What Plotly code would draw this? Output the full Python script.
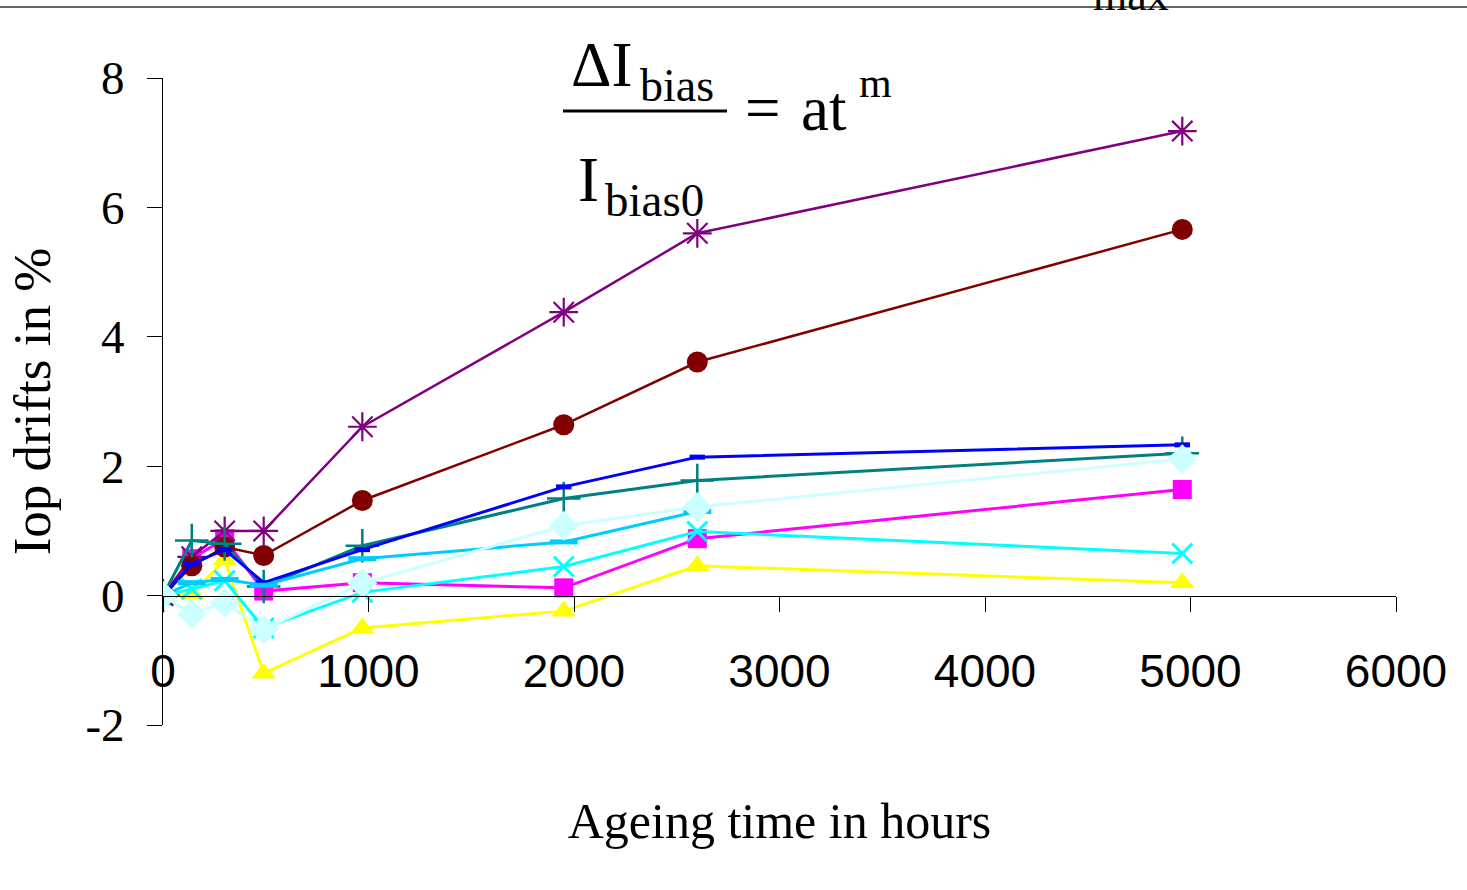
import plotly.graph_objects as go

# ---- data ----
hours = [0, 140, 300, 490, 970, 1950, 2600, 4960]
magenta_sq = [0, 0.57, 0.88, 0.07, 0.20, 0.12, 0.88, 1.64]
yellow_tri = [0, 0.03, 0.55, -1.20, -0.50, -0.24, 0.46, 0.20]
cyan_x = [0, 0.10, 0.23, -0.50, 0.05, 0.45, 0.99, 0.65]
purple_star = [0, 0.60, 1.00, 1.00, 2.61, 4.38, 5.60, 7.18]
darkred_circ = [0, 0.46, 0.75, 0.62, 1.47, 2.64, 3.61, 5.66]
teal_plus = [0, 0.85, 0.80, 0.14, 0.77, 1.50, 1.78, 2.20]
blue_dash = [0, 0.49, 0.71, 0.20, 0.71, 1.68, 2.14, 2.33]
skyblue_dash = [0, 0.20, 0.25, 0.16, 0.57, 0.83, 1.30]
pale_diamond = [0, -0.28, -0.11, -0.52, 0.19, 1.08, 1.37, 2.11]

x_ticks = [0, 1000, 2000, 3000, 4000, 5000, 6000]
y_ticks = [-2, 0, 2, 4, 6, 8]

SERIF = "Liberation Serif, Times New Roman, serif"
SANS = "Liberation Sans, Arial, sans-serif"

series = [
    (magenta_sq, "#FF00FF", 3, dict(symbol="square", size=19, color="#FF00FF")),
    (yellow_tri, "#FFFF00", 3, dict(symbol="triangle-up", size=21, color="#FFFF00")),
    (cyan_x, "#00FFFF", 3, dict(symbol="x-thin-open", size=20, line=dict(color="#00FFFF", width=3))),
    (purple_star, "#800080", 2.5, dict(symbol="asterisk-open", size=24, line=dict(color="#800080", width=2.2))),
    (darkred_circ, "#800000", 2.5, dict(symbol="circle", size=21, color="#800000")),
    (teal_plus, "#008080", 3, dict(symbol="cross-thin-open", size=24, line=dict(color="#008080", width=2.5))),
    (blue_dash, "#0000FF", 3, dict(symbol="line-ew-open", size=11, line=dict(color="#0000FF", width=5))),
    (skyblue_dash, "#00CCFF", 3, dict(symbol="line-ew-open", size=20, line=dict(color="#00CCFF", width=5))),
    (pale_diamond, "#CCFFFF", 3, dict(symbol="diamond", size=23, color="#CCFFFF")),
]

fig = go.Figure()
for vals, col, lw, mk in series:
    fig.add_trace(go.Scatter(
        x=hours[:len(vals)], y=vals, mode="lines+markers",
        line=dict(color=col, width=lw), marker=mk, showlegend=False,
    ))

W, H = 1467, 890
L, R, T, B = 163, 1396, 78, 725


def px(xpix):
    return (xpix - L) / (R - L)


def py(ypix):
    return (B - ypix) / (B - T)


fig.update_layout(
    width=W, height=H,
    margin=dict(l=L, r=W - R, t=T, b=H - B),
    paper_bgcolor="white", plot_bgcolor="white",
    xaxis=dict(
        range=[0, 6000], tickvals=x_ticks, ticktext=[str(v) for v in x_ticks],
        showgrid=False, zeroline=False, showline=True, linecolor="black", linewidth=1,
        ticks="outside", ticklen=15, tickcolor="black", tickwidth=1,
        anchor="free", position=0.2,
        tickfont=dict(family=SANS, size=46, color="black"),
        ticklabelstandoff=20,
        title=dict(text="Ageing time in hours", font=dict(family=SERIF, size=50, color="black"),
                   standoff=107),
    ),
    yaxis=dict(
        range=[-2, 8], tickvals=y_ticks, ticktext=[str(v) for v in y_ticks],
        showgrid=False, zeroline=False, showline=True, linecolor="black", linewidth=1,
        ticks="outside", ticklen=15, tickcolor="black", tickwidth=1,
        tickfont=dict(family=SERIF, size=47, color="black"),
        ticklabelstandoff=13,
        title=dict(text="Iop drifts in %", font=dict(family=SERIF, size=53, color="black"),
                   standoff=17),
    ),
)


def txt(s, xl, baseline, size):
    # place text by left edge and baseline (pixel coordinates of the page)
    fig.add_annotation(text=s, xref="paper", yref="paper", x=px(xl),
                       y=py(baseline - 0.34 * size), xanchor="left", yanchor="middle",
                       showarrow=False, font=dict(family=SERIF, size=size, color="black"))


# formula  dI_bias / I_bias0 = a t^m
txt("ΔI", 569, 86, 63)
txt("bias", 638, 101, 46)
fig.add_shape(type="line", xref="paper", yref="paper", x0=px(563), x1=px(727),
              y0=py(111), y1=py(111), line=dict(color="black", width=3))
txt("=", 743, 129, 63)
txt("at", 799, 130, 63)
txt("m", 857, 97, 42)
txt("I", 576, 201, 63)
txt("bias0", 603, 216, 47)

# clipped text and frame line at the very top
fig.add_shape(type="line", xref="paper", yref="paper", x0=px(0), x1=px(W),
              y0=py(7), y1=py(7), line=dict(color="#333333", width=1.5))
txt("max", 1091, 10, 44)

fig.write_html("out.html", config={"displayModeBar": False},
               post_script="document.body.style.margin='0px';")
